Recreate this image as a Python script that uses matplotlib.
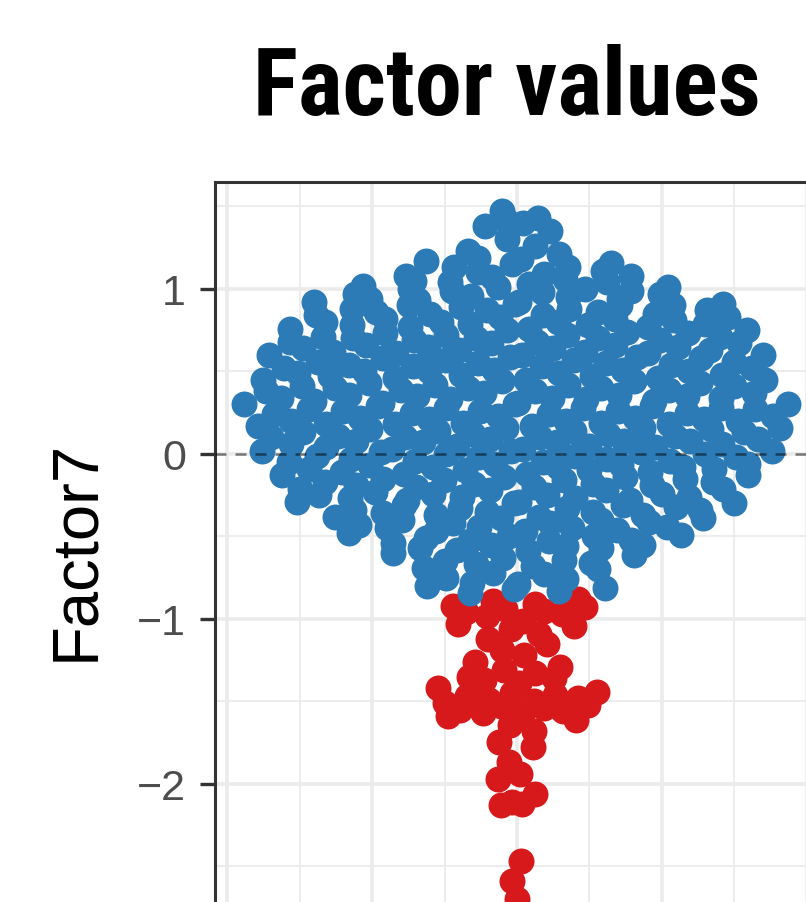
import numpy as np
import matplotlib
matplotlib.use("Agg")
import matplotlib.pyplot as plt
from matplotlib import font_manager as fm
from matplotlib.ticker import MultipleLocator

# Factor7 value of each sample (one swarm, single group)
factor_hi = [1.47, 1.43, 1.42, 1.40, 1.38, 1.35, 1.30, 1.26, 1.23, 1.21, 1.19,
             1.18, 1.17, 1.16, 1.15, 1.13, 1.13, 1.11, 1.10,
             1.09, 1.08, 1.08, 1.07, 1.06, 1.05, 1.04, 1.04, 1.03, 1.02, 1.01, 1.01, 1.00, 1.00,
             0.99, 0.99, 0.98, 0.97, 0.97, 0.96, 0.95, 0.94, 0.94, 0.93, 0.92, 0.92, 0.91, 0.91, 0.90, 0.90, 0.90,
             0.89, 0.88, 0.88, 0.87, 0.87, 0.86, 0.86, 0.85, 0.85, 0.84, 0.84, 0.83, 0.83, 0.82, 0.82, 0.81,
             0.80, 0.80, 0.80,
             0.79, 0.79, 0.78, 0.78, 0.77, 0.77, 0.76, 0.76, 0.75, 0.75, 0.74, 0.73, 0.73, 0.72, 0.72, 0.71,
             0.71, 0.70, 0.70, 0.70,
             0.69, 0.69, 0.68, 0.68, 0.67, 0.67, 0.66, 0.66, 0.65, 0.65, 0.64, 0.64, 0.63, 0.63, 0.62, 0.62,
             0.61, 0.61, 0.60, 0.60, 0.60,
             0.59, 0.59, 0.58, 0.58, 0.57, 0.57, 0.56, 0.56, 0.55, 0.55, 0.54, 0.54, 0.53, 0.53, 0.52, 0.52,
             0.51, 0.51, 0.50, 0.50, 0.50]
factor_mid = [0.49, 0.49, 0.48, 0.48, 0.47, 0.47, 0.46, 0.46, 0.45, 0.45, 0.45, 0.44, 0.44, 0.43, 0.43, 0.42,
              0.42, 0.41, 0.41, 0.40, 0.40, 0.40,
              0.39, 0.39, 0.38, 0.38, 0.37, 0.37, 0.36, 0.36, 0.35, 0.35, 0.34, 0.34, 0.34, 0.33, 0.33, 0.32,
              0.32, 0.31, 0.31, 0.30, 0.30, 0.30,
              0.29, 0.29, 0.28, 0.28, 0.28, 0.27, 0.27, 0.26, 0.26, 0.26, 0.25, 0.25, 0.24, 0.24, 0.23, 0.23,
              0.22, 0.22, 0.21, 0.21, 0.20, 0.20, 0.20,
              0.19, 0.19, 0.18, 0.18, 0.18, 0.17, 0.17, 0.16, 0.16, 0.16, 0.15, 0.15, 0.14, 0.14, 0.13, 0.13,
              0.12, 0.12, 0.11, 0.11, 0.10, 0.10, 0.10,
              0.09, 0.09, 0.08, 0.08, 0.08, 0.07, 0.07, 0.06, 0.06, 0.05, 0.05, 0.04, 0.04, 0.03, 0.03, 0.02,
              0.02, 0.02, 0.01, 0.01, 0.00, 0.00]
factor_lo = [-0.01, -0.01, -0.02, -0.02, -0.03, -0.03, -0.04, -0.04, -0.05, -0.05, -0.06, -0.06, -0.07,
             -0.07, -0.08, -0.08, -0.08, -0.09, -0.09, -0.10, -0.10,
             -0.11, -0.11, -0.12, -0.12, -0.13, -0.13, -0.14, -0.14, -0.15, -0.15, -0.16, -0.16, -0.17,
             -0.17, -0.18, -0.18, -0.19, -0.19, -0.20, -0.20,
             -0.21, -0.21, -0.22, -0.22, -0.23, -0.24, -0.24, -0.25, -0.25, -0.26, -0.26, -0.27, -0.27,
             -0.28, -0.28, -0.29, -0.29, -0.30, -0.30,
             -0.31, -0.31, -0.32, -0.33, -0.33, -0.34, -0.34, -0.35, -0.35, -0.36, -0.37, -0.37, -0.38,
             -0.38, -0.39, -0.39, -0.40, -0.40,
             -0.41, -0.42, -0.42, -0.43, -0.44, -0.44, -0.45, -0.45, -0.46, -0.47, -0.47, -0.48, -0.49,
             -0.50, -0.50,
             -0.51, -0.52, -0.53, -0.53, -0.54, -0.55, -0.55, -0.56, -0.57, -0.57, -0.58, -0.59, -0.60,
             -0.61, -0.63, -0.64, -0.65, -0.66, -0.67, -0.68, -0.69, -0.70,
             -0.72, -0.73, -0.75, -0.76, -0.78, -0.79,
             -0.80, -0.81, -0.82, -0.83, -0.84]
factor_tail = [-0.88, -0.89, -0.91, -0.92, -0.93, -0.94, -0.95, -0.96, -0.97, -0.98,
               -1.01, -1.03, -1.04, -1.06, -1.09,
               -1.12, -1.15, -1.19,
               -1.22, -1.26, -1.29,
               -1.31, -1.33, -1.35, -1.36, -1.37, -1.39,
               -1.42, -1.44, -1.45, -1.46, -1.47, -1.48, -1.49,
               -1.50, -1.51, -1.52, -1.53, -1.54, -1.55, -1.56, -1.57, -1.58, -1.59,
               -1.61, -1.64, -1.68,
               -1.745, -1.776, -1.867, -1.94, -1.97, -2.06, -2.11, -2.12, -2.125,
               -2.47, -2.59, -2.70]

cutoff = -0.86
col_keep = "#2C7BB6"
col_low = "#D7191C"

values = np.array(factor_hi + factor_mid + factor_lo + factor_tail)


def van_der_corput(n):
    out = np.zeros(n)
    for i in range(1, n + 1):
        k, denom, v = i, 1.0, 0.0
        while k:
            k, r = divmod(k, 2)
            denom *= 2
            v += r / denom
        out[i - 1] = v
    return out


def quasirandom_offsets(y, width=0.38, adjust=0.5):
    # vipor-style quasirandom: vdC sequence by rank, scaled by the kde at each point
    n = len(y)
    sd = np.std(y, ddof=1)
    q75, q25 = np.percentile(y, [75, 25])
    bw = 0.9 * min(sd, (q75 - q25) / 1.34) * n ** -0.2 * adjust
    grid = np.linspace(y.min() - 3 * bw, y.max() + 3 * bw, 512)
    dens = np.exp(-0.5 * ((grid[:, None] - y[None, :]) / bw) ** 2).sum(axis=1)
    dens /= dens.max()
    d_at = np.interp(y, grid, dens)
    ranks = np.argsort(np.argsort(y, kind="stable"), kind="stable")
    return (van_der_corput(n)[ranks] - 0.5) * 2 * d_at * width


def narrow_bold_faces():
    faces = []
    for f in fm.fontManager.ttflist:
        name = (f.name + " " + f.fname).lower()
        narrow = ("narrow" in name or "condensed" in name or
                  f.stretch in ("condensed", "semi-condensed", "extra-condensed"))
        bold = f.weight in ("bold", 700, "700")
        if narrow and bold and "oblique" not in name and "italic" not in name:
            faces.append(f.fname)
    return sorted(set(faces))


xpos = quasirandom_offsets(values)
low = values < cutoff

W, H = 806, 903
fig = plt.figure(figsize=(W / 100, H / 100), dpi=100)

ytop, ybot = 1.648, -2.908
ppu = 165.0
ax_h = (ytop - ybot) * ppu
ax = fig.add_axes([215 / W, 1 - (183 + ax_h) / H, 604 / W, ax_h / H])
ax.set_xlim(-0.4166, 0.4166)
ax.set_ylim(ybot, ytop)

ax.xaxis.set_major_locator(MultipleLocator(0.2))
ax.xaxis.set_minor_locator(MultipleLocator(0.1))
ax.yaxis.set_major_locator(MultipleLocator(1))
ax.yaxis.set_minor_locator(MultipleLocator(0.5))
ax.grid(which="major", color="#EBEBEB", lw=2.6)
ax.grid(which="minor", color="#EBEBEB", lw=1.3)
ax.set_axisbelow(True)

ax.scatter(xpos[low], values[low], s=350, color=col_low, linewidths=0, zorder=2)
ax.scatter(xpos[~low], values[~low], s=350, color=col_keep, linewidths=0, zorder=2)
ax.axhline(0, color="black", alpha=0.5, lw=1.8, dashes=(4.4, 3.6), zorder=3)

for sp in ax.spines.values():
    sp.set_color("#333333")
    sp.set_linewidth(2.2)

ax.tick_params(axis="y", which="major", length=10.8, width=2.4, color="#333333",
               labelsize=31, labelcolor="#4D4D4D", pad=10)
ax.tick_params(axis="both", which="minor", length=0)
ax.tick_params(axis="x", which="major", labelbottom=False, length=0)
for lab in ax.get_yticklabels():
    lab.set_family(["Liberation Sans", "DejaVu Sans"])

# title: pick the narrow bold face whose width at 68 pt is closest to ~505 px
rend = fig.canvas.get_renderer()
title = fig.text(507 / W, 1 - 115 / H, "Factor values", ha="center", va="baseline",
                 fontsize=68, fontweight="bold", family=["Liberation Sans", "DejaVu Sans"])
best, best_err = None, abs(title.get_window_extent(rend).width - 505)
for path in narrow_bold_faces():
    fp = fm.FontProperties(fname=path, size=68)
    title.set_fontproperties(fp)
    err = abs(title.get_window_extent(rend).width - 505)
    if err < best_err:
        best, best_err = fp, err
if best is not None:
    title.set_fontproperties(best)
else:
    title.set_fontproperties(fm.FontProperties(family=["Liberation Sans", "DejaVu Sans"],
                                               weight="bold", size=68))
tw = title.get_window_extent(rend).width
if tw > 510:
    title.set_fontsize(title.get_fontsize() * 505 / tw)

fig.text(76 / W, 1 - 550 / H, "Factor7", rotation=90, ha="center", va="center",
         fontsize=47, family=["Liberation Sans", "DejaVu Sans"])

fig.savefig("out.png", dpi=100)
